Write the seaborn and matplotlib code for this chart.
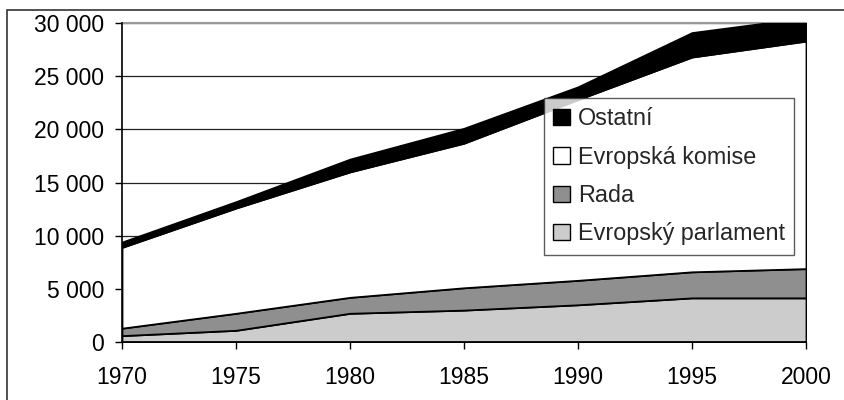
import matplotlib
matplotlib.use("Agg")
import matplotlib.pyplot as plt
import seaborn as sns
from matplotlib.patches import Rectangle, Patch
from matplotlib.ticker import FuncFormatter

# --- Data ---
years = [1970, 1975, 1980, 1985, 1990, 1995, 2000]
parlament = [600, 1100, 2700, 3000, 3500, 4150, 4150]
rada = [700, 1600, 1500, 2100, 2300, 2450, 2750]
komise = [7600, 9900, 11800, 13600, 17000, 20200, 21400]
ostatni = [500, 600, 1200, 1400, 1200, 2300, 2200]

labels = ["Evropský parlament", "Rada", "Evropská komise", "Ostatní"]
colors = ["#cccccc", "#8f8f8f", "#ffffff", "#000000"]

sns.set_style("white")
plt.rcParams['font.family'] = ['Liberation Sans', 'DejaVu Sans']

fig = plt.figure(figsize=(8.45, 4), dpi=100)
ax = fig.add_axes([122 / 845, 1 - 342 / 400, 684 / 845, 319 / 400])

ax.stackplot(years, parlament, rada, komise, ostatni, colors=colors,
             edgecolor="black", linewidth=1.3, zorder=3)

ax.set_xlim(1970, 2000)
ax.set_ylim(0, 30000)
ax.set_xticks(years)
ax.set_yticks(range(0, 30001, 5000))
ax.yaxis.set_major_formatter(FuncFormatter(lambda v, p: f"{v:,.0f}".replace(",", " ")))

# gridlines
ax.grid(axis="y", color="#222222", linewidth=0.9, zorder=0)
ax.grid(axis="x", visible=False)
for s in ["top", "right"]:
    ax.spines[s].set_visible(False)
ax.axhline(30000, color="#999999", linewidth=1.5, zorder=1, clip_on=False)
for s in ["left", "bottom"]:
    ax.spines[s].set_color("black")
    ax.spines[s].set_linewidth(1.2)
    ax.spines[s].set_zorder(4)

ax.tick_params(axis="both", direction="out", length=5, width=1, color="black",
               labelsize=16.5, labelcolor="black", left=True, bottom=True)
ax.tick_params(axis="y", pad=8)
ax.tick_params(axis="x", pad=12)
ax.set_xlabel("")
ax.set_ylabel("")

# legend (reverse order as in the picture)
handles = [Patch(facecolor=c, edgecolor="black", linewidth=1) for c in colors]
leg = ax.legend(handles[::-1], labels[::-1], loc="upper left",
                bbox_to_anchor=(0.617, 0.765), frameon=True, fancybox=False,
                fontsize=16.8, handlelength=0.7, handleheight=0.7,
                handletextpad=0.35, labelspacing=0.66, borderpad=0.4,
                borderaxespad=0)
leg.get_frame().set_edgecolor("#333333")
leg.get_frame().set_linewidth(1)
leg.set_zorder(5)

# outer frame of the picture
fig.patches.append(Rectangle((7 / 845, -0.1), 1.2, 1 - 10 / 400 + 0.1,
                             transform=fig.transFigure, fill=False,
                             edgecolor="#333333", linewidth=1.2))

fig.savefig("out.png", dpi=100)
